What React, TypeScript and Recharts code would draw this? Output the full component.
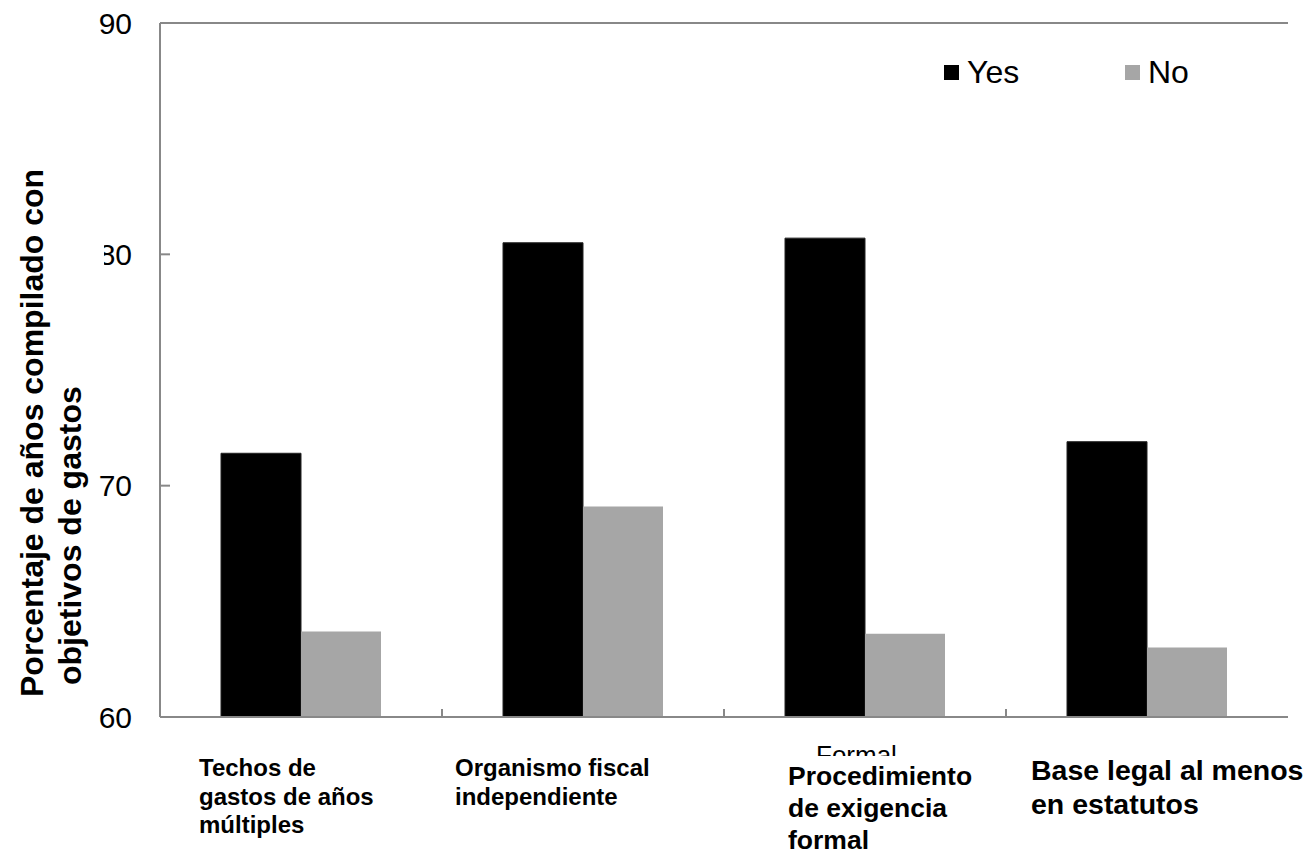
import React from "react";
import { BarChart, Bar, XAxis, YAxis, Legend, ReferenceLine } from "recharts";

const categories = [
  "Techos de gastos de años múltiples",
  "Organismo fiscal independiente",
  "Procedimiento de exigencia formal",
  "Base legal al menos en estatutos"
];
const categoryLines = [
  ["Techos de", "gastos de años", "múltiples"],
  ["Organismo fiscal", "independiente"],
  ["Procedimiento", "de exigencia", "formal"],
  ["Base legal al menos", "en estatutos"]
];
const yesValues = [71.4, 80.5, 80.7, 71.9];
const noValues = [63.7, 69.1, 63.6, 63.0];
const seriesNames = ["Yes", "No"];
const yTicks = [60, 70, 80, 90];
const yAxisTitle = ["Porcentaje de años compilado con", "objetivos de gastos"];

const data = categories.map((name, i) => ({ name, yes: yesValues[i], no: noValues[i] }));

const W = 1313;
const H = 854;
const LEFT = 160;
const RIGHT = 1288;
const TOP = 23;
const BOTTOM = 717;
const BAND = (RIGHT - LEFT) / categories.length;
const AXIS = "#888888";
const FONT = "'Liberation Sans', Arial, sans-serif";

// per-category label placement (offset from category centre)
const labelStyles = [
  { dx: -102, y: 776, size: 24, lh: 28.5 },
  { dx: -128, y: 776, size: 24, lh: 28.5 },
  { dx: -77, y: 785, size: 26.5, lh: 32 },
  { dx: -116, y: 780, size: 28.5, lh: 33.5 }
];

const XTick = (props: any) => {
  const { x, y, index } = props;
  const s = labelStyles[index];
  const lx = x + s.dx;
  return (
    <g>
      {index < categories.length - 1 && (
        <line x1={x + BAND / 2} x2={x + BAND / 2} y1={y} y2={y - 8} stroke={AXIS} strokeWidth={2} />
      )}
      {index === 2 && (
        <>
          <text x={x - 49} y={764} fontSize={26} fontFamily={FONT} fill="#000">Formal</text>
          <rect x={x - 60} y={756} width={120} height={20} fill="#fff" />
        </>
      )}
      <text x={lx} y={s.y} fontSize={s.size} fontWeight="bold" fontFamily={FONT} fill="#000">
        {categoryLines[index].map((l, j) => (
          <tspan key={j} x={lx} y={s.y + j * s.lh}>{l}</tspan>
        ))}
      </text>
    </g>
  );
};

const YTick = (props: any) => {
  const { y, payload } = props;
  return (
    <g>
      <line x1={LEFT} x2={LEFT + 10} y1={y} y2={y} stroke={AXIS} strokeWidth={2} />
      <text x={132} y={y} dy="0.36em" textAnchor="end" fontSize={30} fontFamily={FONT} fill="#000">
        {payload.value}
      </text>
      {payload.value === 80 && <rect x={94} y={y - 17} width={10} height={34} fill="#fff" />}
    </g>
  );
};

const YTitle = () => (
  <g>
    <text transform="rotate(-90)" x={-697} y={43} fontSize={32} fontWeight="bold" fontFamily={FONT} fill="#000">
      {yAxisTitle[0]}
    </text>
    <text transform="rotate(-90)" x={-685} y={81} fontSize={32} fontWeight="bold" fontFamily={FONT} fill="#000">
      {yAxisTitle[1]}
    </text>
  </g>
);

const LegendBox = () => (
  <div style={{ height: 0, overflow: "visible" }}>
    <div style={{ display: "flex", alignItems: "center", fontFamily: FONT, fontSize: 32, color: "#000" }}>
      {seriesNames.map((n, i) => (
        <div key={n} style={{ display: "flex", alignItems: "center", width: i === 0 ? 181 : "auto" }}>
          <span style={{ display: "inline-block", width: 15, height: 15, background: i === 0 ? "#000" : "#a6a6a6", marginRight: 8 }} />
          <span>{n}</span>
        </div>
      ))}
    </div>
  </div>
);

export default function App() {
  return (
    <div style={{ position: "absolute", left: 0, top: 0, width: W, height: H, background: "#fff" }}>
      <BarChart
        width={W}
        height={H}
        data={data}
        margin={{ top: TOP, right: W - RIGHT, bottom: 0, left: 0 }}
        barGap={0}
        barSize={80}
      >
        <XAxis
          dataKey="name"
          height={H - BOTTOM}
          interval={0}
          axisLine={{ stroke: AXIS, strokeWidth: 2 }}
          tickLine={false}
          tickSize={0}
          tickMargin={0}
          tick={<XTick />}
        />
        <YAxis
          width={LEFT}
          domain={[60, 90]}
          ticks={yTicks}
          allowDataOverflow
          axisLine={{ stroke: AXIS, strokeWidth: 2 }}
          tickLine={false}
          tickSize={0}
          tickMargin={0}
          tick={<YTick />}
          label={<YTitle />}
        />
        <YAxis
          yAxisId="r"
          orientation="right"
          width={0}
          domain={[60, 90]}
          tick={false}
          tickLine={false}
          axisLine={{ stroke: AXIS, strokeWidth: 2 }}
        />
        <ReferenceLine y={90} stroke={AXIS} strokeWidth={2} />
        <Legend
          verticalAlign="top"
          content={<LegendBox />}
          wrapperStyle={{ position: "absolute", left: 944, top: 54, width: "auto", height: 0 }}
        />
        <Bar dataKey="yes" name={seriesNames[0]} fill="#000000" stroke="#222" strokeWidth={1} isAnimationActive={false} />
        <Bar dataKey="no" name={seriesNames[1]} fill="#a6a6a6" isAnimationActive={false} />
      </BarChart>
    </div>
  );
}
